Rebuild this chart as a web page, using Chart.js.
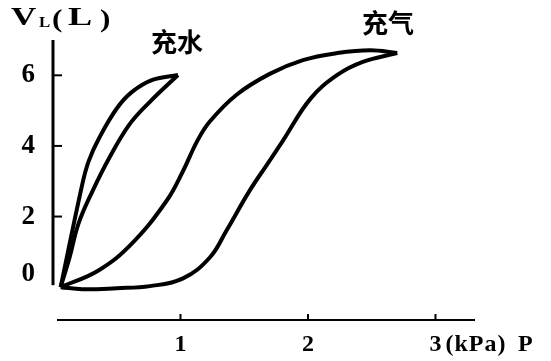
<!DOCTYPE html>
<html>
<head>
<meta charset="utf-8">
<script src="https://cdn.jsdelivr.net/npm/chart.js@4"></script>
<style>
  body { margin: 0; background: #fff; }
  canvas { display: block; }
</style>
</head>
<body>
<canvas id="myChart" width="551" height="361"></canvas>
<script>
// pressure (kPa) / volume (L)
const waterInP = [0.06, 0.13, 0.20, 0.31, 0.44, 0.60, 0.76, 0.98];
const waterInV = [0.00, 0.84, 1.80, 2.72, 3.65, 4.61, 5.25, 6.01];
const waterOutP = [0.98, 0.78, 0.62, 0.50, 0.36, 0.28, 0.23, 0.06];
const waterOutV = [6.01, 5.87, 5.53, 5.06, 4.21, 3.57, 2.92, 0.00];

const airInP = [0.06, 0.23, 0.50, 0.76, 1.02, 1.23, 1.36, 1.54, 1.68, 1.80, 2.02, 2.23, 2.43, 2.70];
const airInV = [0.00, -0.06, -0.03, 0.03, 0.25, 0.84, 1.60, 2.72, 3.48, 4.13, 5.34, 6.01, 6.38, 6.63];
const airOutP = [2.70, 2.49, 2.23, 1.96, 1.70, 1.44, 1.23, 1.13, 1.02, 0.89, 0.62, 0.36, 0.06];
const airOutV = [6.63, 6.71, 6.63, 6.43, 6.04, 5.45, 4.69, 4.13, 3.29, 2.44, 1.24, 0.48, 0.00];

const xTicks = [1, 2, 3];
const yTicks = [0, 2, 4, 6];
const curveLabels = ['充水', '充气'];

const numFont = 'Liberation Serif';

function pts(px, py) {
    return px.map((p, i) => ({ x: p, y: py[i] }));
}

function curve(px, py) {
    return {
        data: pts(px, py),
        borderColor: '#000',
        borderWidth: 4,
        pointRadius: 0,
        tension: 0.4,
        fill: false
    };
}

// text stretched sideways, the scan's type is wide
function wideText(ctx, t, x, y, sx) {
    ctx.save();
    ctx.translate(x, y);
    ctx.scale(sx, 1);
    ctx.fillText(t, 0, 0);
    ctx.restore();
}

// axes, tick marks and texts drawn by hand like the scan
const axesPlugin = {
    id: 'axesPlugin',
    afterDraw(chart) {
        const ctx = chart.ctx;
        const xs = chart.scales.x;
        const ys = chart.scales.y;
        const a = chart.chartArea;
        ctx.save();
        ctx.strokeStyle = '#000';
        ctx.fillStyle = '#000';

        // y axis
        ctx.lineWidth = 3;
        ctx.beginPath();
        ctx.moveTo(a.left, a.top);
        ctx.lineTo(a.left, ys.getPixelForValue(0) - 2);
        ctx.stroke();
        ctx.lineWidth = 2;
        yTicks.forEach(v => {
            if (v === 0) return;
            const py = ys.getPixelForValue(v);
            ctx.beginPath();
            ctx.moveTo(a.left, py);
            ctx.lineTo(a.left + 9, py);
            ctx.stroke();
        });

        // x axis
        ctx.lineWidth = 2;
        ctx.beginPath();
        ctx.moveTo(a.left + 4, a.bottom);
        ctx.lineTo(a.right, a.bottom);
        ctx.stroke();
        xTicks.forEach(v => {
            const px = xs.getPixelForValue(v);
            ctx.beginPath();
            ctx.moveTo(px, a.bottom);
            ctx.lineTo(px, a.bottom - 6);
            ctx.stroke();
        });

        // x title
        ctx.textBaseline = 'alphabetic';
        ctx.textAlign = 'left';
        ctx.font = 'bold 24px ' + numFont;
        ctx.letterSpacing = '1px';
        ctx.fillText('(kPa)', xs.getPixelForValue(3) + 10, 351);
        ctx.letterSpacing = '0px';
        ctx.fillText('P', 518, 351);

        // y title V_L (L)
        ctx.font = 'bold 25px ' + numFont;
        wideText(ctx, 'V', 11, 25, 1.4);
        ctx.font = 'bold 14px ' + numFont;
        wideText(ctx, 'L', 39, 27, 1.2);
        ctx.font = 'bold 26px ' + numFont;
        wideText(ctx, '(', 52, 27, 1.2);
        ctx.font = 'bold 25px ' + numFont;
        wideText(ctx, 'L', 68, 25, 1.45);
        ctx.font = 'bold 26px ' + numFont;
        wideText(ctx, ')', 100, 27, 1.2);

        // curve names
        ctx.font = 'bold 26px "Noto Sans CJK SC"';
        ctx.textBaseline = 'middle';
        ctx.fillText(curveLabels[0], 151, 42);
        ctx.fillText(curveLabels[1], 362, 23);
        ctx.restore();
    }
};

const config = {
    type: 'line',
    data: {
        datasets: [
            curve(waterInP, waterInV),
            curve(waterOutP, waterOutV),
            curve(airInP, airInV),
            curve(airOutP, airOutV)
        ]
    },
    options: {
        responsive: false,
        animation: false,
        layout: { padding: { top: 40, right: 76, left: 0, bottom: 0 } },
        plugins: { legend: { display: false }, tooltip: { enabled: false } },
        scales: {
            x: {
                type: 'linear',
                min: 0,
                max: 3.31,
                grid: { display: false },
                border: { display: false },
                afterBuildTicks: s => { s.ticks = xTicks.map(v => ({ value: v })); },
                afterFit: s => { s.height = 41; },
                ticks: {
                    padding: 2,
                    color: '#000',
                    font: { family: numFont, size: 24, weight: 'bold' }
                }
            },
            y: {
                min: -0.93,
                max: 7,
                grid: { display: false },
                border: { display: false },
                afterBuildTicks: s => { s.ticks = yTicks.map(v => ({ value: v })); },
                afterFit: s => { s.width = 53; },
                ticks: {
                    padding: 10,
                    color: '#000',
                    // the 0 in the scan sits a little above the origin
                    callback: v => (v === 0 ? ['0', ''] : String(v)),
                    font: { family: numFont, size: 27, weight: 'bold', lineHeight: 1 }
                }
            }
        }
    },
    plugins: [axesPlugin]
};

new Chart(document.getElementById('myChart'), config);
</script>
</body>
</html>
